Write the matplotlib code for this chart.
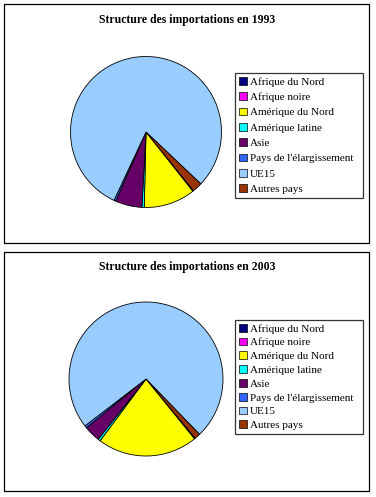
import matplotlib
matplotlib.use("Agg")
import matplotlib.pyplot as plt
from matplotlib.patches import Rectangle, Patch

# regions (legend order, also the order of the slices, clockwise)
regions = ["Afrique du Nord", "Afrique noire", "Amérique du Nord", "Amérique latine",
           "Asie", "Pays de l'élargissement", "UE15", "Autres pays"]
colors = ["#000080", "#FF00FF", "#FFFF00", "#00FFFF",
          "#660066", "#3366FF", "#99CCFF", "#993300"]

# shares in %
share_1993 = [0.1, 0.1, 11.0, 0.5, 5.7, 0.4, 80.1, 2.1]
share_2003 = [0.1, 0.1, 21.0, 0.5, 3.4, 0.5, 73.2, 1.2]

W, H = 376, 497
fig = plt.figure(figsize=(W / 100, H / 100), dpi=100)
fig.patch.set_facecolor("white")

def px_box(x0, y0, x1, y1):
    # pixel box (top-left origin) -> figure fraction [left, bottom, width, height]
    return [x0 / W, 1 - y1 / H, (x1 - x0) / W, (y1 - y0) / H]

def panel(box, title, title_y, values, centre, radius, start, leg_box, spacing):
    l, b, w, h = px_box(*box)
    fig.patches.append(Rectangle((l, b), w, h, transform=fig.transFigure,
                                 fill=False, edgecolor="black", linewidth=0.9))
    fig.text(((box[0] + box[2]) / 2 + 1) / W, 1 - title_y / H, title,
             ha="center", va="center", family="Liberation Serif",
             fontweight="bold", fontsize=8.5)
    cx, cy = centre
    ax = fig.add_axes(px_box(cx - radius, cy - radius, cx + radius, cy + radius))
    ax.pie(values, colors=colors, startangle=start, counterclock=False,
           wedgeprops=dict(edgecolor="black", linewidth=0.6))
    ax.set_xlim(-1, 1)
    ax.set_ylim(-1, 1)
    ax.set_aspect("auto")
    ax.axis("off")
    handles = [Patch(facecolor=c, edgecolor="black", linewidth=0.5) for c in colors]
    lb = px_box(*leg_box)
    leg = fig.legend(handles, regions, loc="upper left",
                     bbox_to_anchor=(lb[0], lb[1], lb[2], lb[3]),
                     mode="expand", borderaxespad=0, fancybox=False,
                     prop=dict(family="Liberation Serif", size=8),
                     handlelength=0.7, handleheight=0.7, handletextpad=0.3,
                     labelspacing=spacing, borderpad=0.35)
    leg.get_frame().set_edgecolor("black")
    leg.get_frame().set_linewidth(0.9)

panel((4, 4, 369, 243), "Structure des importations en 1993", 20,
      share_1993, (146, 132), 75.5, -51, (235, 73, 363, 197), 0.5)
panel((4, 252, 369, 491), "Structure des importations en 2003", 267,
      share_2003, (146, 379), 77, -50.3, (235, 320, 363, 433), 0.36)

fig.savefig("out.png", dpi=100)
